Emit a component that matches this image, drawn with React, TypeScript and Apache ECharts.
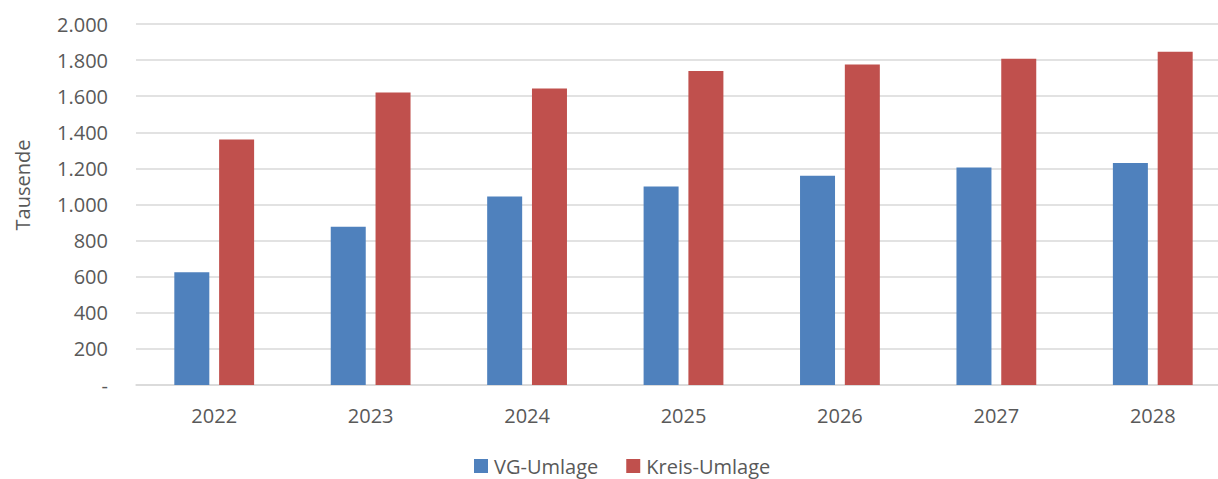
import React, { useEffect, useRef } from "react";
import * as echarts from "echarts";

const categories = ["2022", "2023", "2024", "2025", "2026", "2027", "2028"];
const vgUmlage = [624, 877, 1045, 1100, 1159, 1205, 1230];
const kreisUmlage = [1360, 1621, 1643, 1740, 1776, 1808, 1846];
const seriesNames = ["VG-Umlage", "Kreis-Umlage"];
const axisTitle = "Tausende";

const FONT = "'Open Sans', 'Liberation Sans', sans-serif";
const TEXT = "#595959";

function fmt(v: number): string {
  if (v === 0) return "-";
  return String(v).replace(/\B(?=(\d{3})+(?!\d))/g, ".");
}

export default function App() {
  const ref = useRef<HTMLDivElement>(null);
  useEffect(() => {
    if (!ref.current) return;
    const chart = echarts.init(ref.current, null, { renderer: "svg" });
    chart.setOption({
      animation: false,
      backgroundColor: "#ffffff",
      textStyle: { fontFamily: FONT },
      grid: { left: 136, right: 0, top: 24, bottom: 94, containLabel: false },
      legend: {
        left: 469,
        top: 451,
        itemWidth: 14,
        itemHeight: 14,
        itemGap: 28,
        icon: "rect",
        textStyle: { color: TEXT, fontSize: 20, fontFamily: FONT, padding: [0, 0, 6, 1] },
        data: seriesNames,
      },
      graphic: [
        {
          type: "text",
          x: 22,
          y: 185,
          rotation: Math.PI / 2,
          style: {
            text: axisTitle,
            fill: TEXT,
            font: `20px ${FONT}`,
            textAlign: "center",
            textVerticalAlign: "middle",
          },
        },
      ],
      xAxis: {
        type: "category",
        data: categories,
        axisTick: { show: false },
        axisLine: { show: true, lineStyle: { color: "#D9D9D9", width: 1.5 } },
        axisLabel: { color: TEXT, fontSize: 20, fontFamily: FONT, margin: 20 },
      },
      yAxis: {
        type: "value",
        min: 0,
        max: 2000,
        interval: 200,
        axisLine: { show: false },
        axisTick: { show: false },
        splitLine: { lineStyle: { color: "#D9D9D9", width: 1.5 } },
        axisLabel: { color: TEXT, fontSize: 20, fontFamily: FONT, margin: 28, formatter: fmt },
      },
      series: [
        {
          name: seriesNames[0],
          type: "bar",
          data: vgUmlage,
          barWidth: 35,
          barGap: "28%",
          itemStyle: { color: "#4F81BD" },
        },
        {
          name: seriesNames[1],
          type: "bar",
          data: kreisUmlage,
          barWidth: 35,
          barGap: "28%",
          itemStyle: { color: "#C0504D" },
        },
      ],
    });
    return () => chart.dispose();
  }, []);
  return (
    <div
      ref={ref}
      style={{ position: "fixed", left: 0, top: 0, width: 1231, height: 479 }}
    />
  );
}
